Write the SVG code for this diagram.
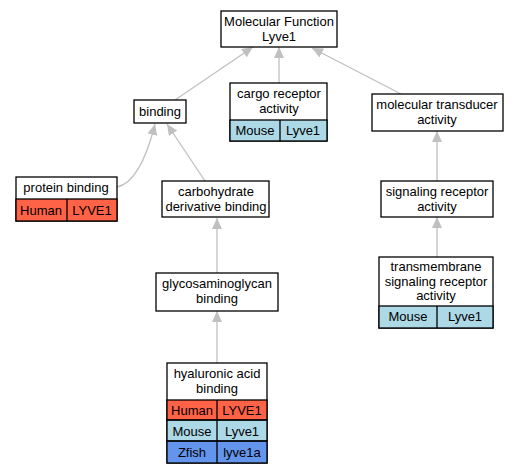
<svg xmlns="http://www.w3.org/2000/svg" width="519" height="475" viewBox="0 0 519 475">
<style>
text{font-family:"Liberation Sans",Arial,sans-serif;font-size:13px;fill:#000;text-anchor:middle}
.n{fill:#fff;stroke:#000;stroke-width:1.3}
.c{fill:none;stroke:#000;stroke-width:1.3}
.h{fill:#ff6347}
.m{fill:#add8e6}
.z{fill:#6495ed}
.e{fill:none;stroke:#c0c0c0;stroke-width:1.3;marker-end:url(#a)}
</style>
<defs>
<marker id="a" markerUnits="userSpaceOnUse" markerWidth="12" markerHeight="11" refX="11" refY="5" orient="auto">
<path d="M0,0 L11,5 L0,10 z" fill="#c0c0c0"/>
</marker>
</defs>
<g id="edges">
<path class="e" d="M175,100 L253,47"/>
<path class="e" d="M279,83 L279,47"/>
<path class="e" d="M401,94 L312,48"/>
<path class="e" d="M117,187 C136,183 148,152 155,124"/>
<path class="e" d="M205,181 L167,124"/>
<path class="e" d="M217,273 L217,218"/>
<path class="e" d="M217,363 L217,311"/>
<path class="e" d="M437,181 L437,131"/>
<path class="e" d="M437,257 L437,217"/>
</g>
<g id="mf">
<rect class="n" x="221" y="11" width="116" height="36"/>
<text x="279" y="26">Molecular Function</text>
<text x="279" y="41">Lyve1</text>
</g>
<g id="binding">
<rect class="n" x="134" y="100" width="52" height="23"/>
<text x="160" y="116">binding</text>
</g>
<g id="cargo">
<rect class="n" x="230" y="83" width="97" height="58"/>
<rect class="m" x="230" y="120" width="97" height="21"/>
<rect class="c" x="230" y="120" width="97" height="21"/>
<line class="c" x1="280" y1="120" x2="280" y2="141"/>
<text x="279" y="98">cargo receptor</text>
<text x="279" y="113">activity</text>
<text x="255" y="135">Mouse</text>
<text x="303" y="135">Lyve1</text>
</g>
<g id="transducer">
<rect class="n" x="372" y="94" width="131" height="37"/>
<text x="437" y="109">molecular transducer</text>
<text x="437" y="124">activity</text>
</g>
<g id="protein">
<rect class="n" x="16" y="177" width="101" height="44"/>
<rect class="h" x="16" y="199" width="101" height="22"/>
<rect class="c" x="16" y="199" width="101" height="22"/>
<line class="c" x1="67" y1="199" x2="67" y2="221"/>
<text x="66" y="192">protein binding</text>
<text x="41" y="215">Human</text>
<text x="92" y="215">LYVE1</text>
</g>
<g id="carbo">
<rect class="n" x="162" y="181" width="107" height="36"/>
<text x="216" y="196">carbohydrate</text>
<text x="216" y="211">derivative binding</text>
</g>
<g id="signaling">
<rect class="n" x="381" y="181" width="112" height="36"/>
<text x="437" y="196">signaling receptor</text>
<text x="437" y="211">activity</text>
</g>
<g id="glyco">
<rect class="n" x="156" y="273" width="122" height="38"/>
<text x="217" y="288">glycosaminoglycan</text>
<text x="217" y="303">binding</text>
</g>
<g id="transmembrane">
<rect class="n" x="379" y="257" width="114" height="71"/>
<rect class="m" x="379" y="306" width="114" height="22"/>
<rect class="c" x="379" y="306" width="114" height="22"/>
<line class="c" x1="437" y1="306" x2="437" y2="328"/>
<text x="436" y="271">transmembrane</text>
<text x="436" y="286">signaling receptor</text>
<text x="436" y="300">activity</text>
<text x="408" y="321">Mouse</text>
<text x="465" y="321">Lyve1</text>
</g>
<g id="hyaluronic">
<rect class="n" x="167" y="363" width="100" height="100"/>
<rect class="h" x="167" y="400" width="100" height="20"/>
<rect class="m" x="167" y="420" width="100" height="21"/>
<rect class="z" x="167" y="441" width="100" height="22"/>
<rect class="c" x="167" y="400" width="100" height="20"/>
<rect class="c" x="167" y="420" width="100" height="21"/>
<rect class="c" x="167" y="441" width="100" height="22"/>
<line class="c" x1="217" y1="400" x2="217" y2="463"/>
<text x="217" y="378">hyaluronic acid</text>
<text x="217" y="393">binding</text>
<text x="192" y="415">Human</text>
<text x="242" y="415">LYVE1</text>
<text x="192" y="436">Mouse</text>
<text x="242" y="436">Lyve1</text>
<text x="192" y="457">Zfish</text>
<text x="242" y="457">lyve1a</text>
</g>
</svg>
